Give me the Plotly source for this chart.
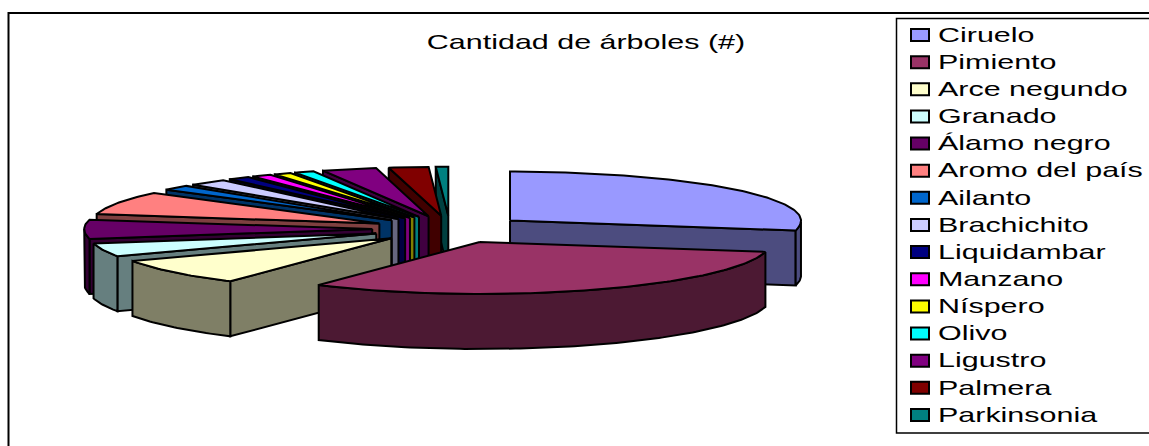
import numpy as np
import plotly.graph_objects as go

categories = ['Ciruelo', 'Pimiento', 'Arce negundo', 'Granado', 'Álamo negro', 'Aromo del país',
              'Ailanto', 'Brachichito', 'Liquidambar', 'Manzano', 'Níspero', 'Olivo',
              'Ligustro', 'Palmera', 'Parkinsonia']
values = [101, 113, 30, 15, 22, 27.5, 6, 8, 4.5, 4, 3.5, 4, 11, 8, 2.5]
colors = ['#9999FF', '#993366', '#FFFFCC', '#CCFFFF', '#660066', '#FF8080', '#0066CC', '#CCCCFF',
          '#000080', '#FF00FF', '#FFFF00', '#00FFFF', '#800080', '#800000', '#008080']
title = 'Cantidad de árboles (#)'

# the axes run in window pixels, y pointing down
W, H = 1149, 446
CX, CY = 450, 229
RX, RX_RIGHT, RY_BACK, RY_FRONT = 288, 291, 49, 52
EXPLODE = 0.27
DEPTH = 55
LINE = 2
FONT = 'Liberation Sans, Arial, sans-serif'
TEXT_STRETCH = 1.45


def shade(color):
    # side walls are the slice colour at half brightness
    r, g, b = (int(color[i:i + 2], 16) // 2 for i in (1, 3, 5))
    return f'#{r:02x}{g:02x}{b:02x}'


def offset(deg, scale=1.0, rx_right=RX):
    t = np.radians(deg)
    s, c = np.sin(t), np.cos(t)
    rx = np.where(s > 0, rx_right, RX)
    ry = np.where(c > 0, RY_BACK, RY_FRONT)
    return scale * rx * s, -scale * ry * c


def polygon(xs, ys, fill, name):
    return go.Scatter(x=xs, y=ys, mode='lines', fill='toself', fillcolor=fill, name=name,
                      line=dict(color='black', width=LINE), hoverinfo='skip', showlegend=False)


edges = np.cumsum([0] + values) / sum(values) * 360
order = sorted(range(len(values)), key=lambda i: -np.cos(np.radians((edges[i] + edges[i + 1]) / 2)))

traces = []
for i in order:
    t0, t1 = edges[i], edges[i + 1]
    dx, dy = offset((t0 + t1) / 2, EXPLODE)
    ax, ay = CX + dx, CY + dy
    arc = np.linspace(t0, t1, max(int(t1 - t0), 2) + 1)
    px, py = offset(arc, rx_right=RX_RIGHT)
    px, py = ax + px, ay + py
    wall = shade(colors[i])
    name = categories[i]

    # cut faces, only the ones turned to the viewer
    if np.sin(np.radians(t0)) < -1e-9:
        traces.append(polygon([ax, px[0], px[0], ax, ax],
                              [ay, py[0], py[0] + DEPTH, ay + DEPTH, ay], wall, name))
    if np.sin(np.radians(t1)) > 1e-9:
        traces.append(polygon([ax, px[-1], px[-1], ax, ax],
                              [ay, py[-1], py[-1] + DEPTH, ay + DEPTH, ay], wall, name))

    # rim wall, front half of the ellipse
    front = np.cos(np.radians(arc)) <= 0
    if front.sum() > 1:
        fx, fy = px[front], py[front]
        traces.append(polygon(np.r_[fx, fx[::-1], fx[0]],
                              np.r_[fy, fy[::-1] + DEPTH, fy[0]], wall, name))

    traces.append(polygon(np.r_[ax, px, ax], np.r_[ay, py, ay], colors[i], name))

# legend column, the swatches are wider than tall like the text
legend_y = [35 + k * 27.14 for k in range(len(categories))]
traces.append(go.Scatter(
    x=[938] * len(categories), y=[y + 1.5 for y in legend_y], mode='text', text=categories,
    textposition='middle right',
    textfont=dict(family=FONT, size=21, color='black'),
    hoverinfo='skip', showlegend=False,
))
swatches = [
    dict(type='rect', xref='x', yref='y', x0=911, x1=929, y0=y - 6, y1=y + 6, fillcolor=c,
         line=dict(color='black', width=LINE))
    for y, c in zip(legend_y, colors)
]

fig = go.Figure(traces)
fig.update_layout(
    width=W,
    height=H,
    margin=dict(l=0, r=0, t=0, b=0, autoexpand=False),
    paper_bgcolor='white',
    plot_bgcolor='white',
    showlegend=False,
    title=dict(text=title, x=586 / W, y=1 - 42 / H, xanchor='center', yanchor='middle',
               font=dict(family=FONT, size=21, color='black')),
    xaxis=dict(range=[0, W], visible=False, fixedrange=True),
    yaxis=dict(range=[H, 0], visible=False, fixedrange=True),
    shapes=[
        dict(type='rect', xref='x', yref='y', x0=8.5, y0=13, x1=W + 10, y1=H + 10,
             line=dict(color='black', width=2), layer='below'),
        dict(type='rect', xref='x', yref='y', x0=896.5, y0=18.5, x1=W + 10, y1=433,
             line=dict(color='black', width=1.5), layer='below'),
    ] + swatches,
)

# the original text is drawn wide, SVG can stretch the glyphs without touching the strings
page_js = """
document.body.style.margin = '0';
document.querySelectorAll('.gtitle, .textpoint text').forEach(function (t) {
    t.setAttribute('textLength', t.getComputedTextLength() * %s);
    t.setAttribute('lengthAdjust', 'spacingAndGlyphs');
});
""" % TEXT_STRETCH

fig.write_html("out.html", post_script=page_js, config=dict(displayModeBar=False))
